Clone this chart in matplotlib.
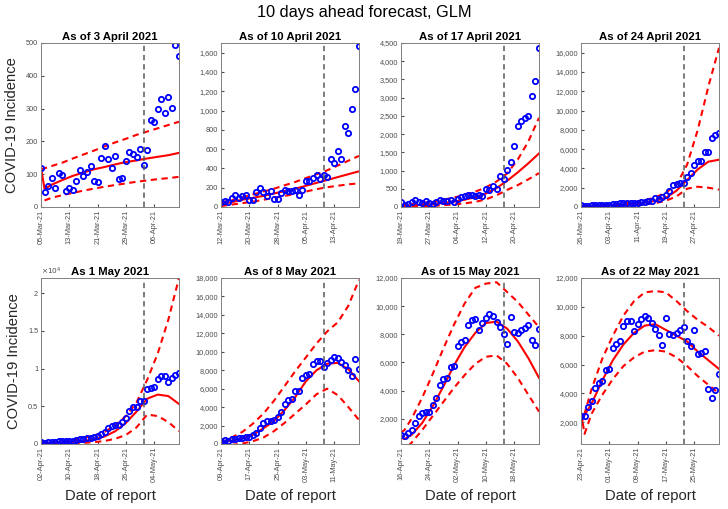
import datetime as dt
import numpy as np
import matplotlib
matplotlib.use("Agg")
import matplotlib.pyplot as plt
import matplotlib.dates as mdates
from matplotlib.ticker import FuncFormatter, MultipleLocator

plt.rcParams["font.family"] = ["Liberation Sans", "DejaVu Sans"]

# --- données ---
titles = ["As of 3 April 2021", "As of 10 April 2021", "As of 17 April 2021",
          "As of 24 April 2021", "As 1 May 2021", "As of 8 May 2021",
          "As of 15 May 2021", "As of 22 May 2021"]
start_dates = ["2021-03-05", "2021-03-12", "2021-03-19", "2021-03-26",
               "2021-04-02", "2021-04-09", "2021-04-16", "2021-04-23"]
calib_days = 29  # jour "as of" après la date de début

cases = [
    [120, 45, 65, 88, 58, 103, 97, 48, 58, 52, 78, 113, 95, 107, 125, 78, 75, 150, 187, 145,
     120, 155, 85, 88, 140, 168, 162, 152, 178, 128, 175, 265, 260, 298, 330, 288, 335, 302, 495, 460],
    [48, 65, 48, 93, 120, 93, 110, 127, 76, 76, 151, 196, 151, 110, 162, 86, 86, 144, 172, 162,
     162, 179, 127, 172, 265, 265, 299, 334, 289, 334, 310, 495, 461, 581, 495, 839, 770, 1011, 1228, 1668],
    [128, 64, 82, 128, 182, 137, 109, 155, 109, 91, 137, 182, 173, 155, 182, 128, 219, 264, 292, 337,
     337, 292, 319, 292, 492, 456, 583, 492, 838, 774, 1020, 1230, 1676, 2223, 2369, 2451, 2496, 3043, 3453, 4373],
    [240, 70, 140, 170, 240, 240, 200, 240, 200, 310, 340, 380, 380, 410, 410, 380, 380, 480, 550, 650,
     580, 930, 830, 1030, 1200, 1620, 2240, 2410, 2480, 2480, 3100, 3510, 4370, 4820, 4820, 5680, 5680, 7120, 7460, 7640],
    [220, 180, 220, 310, 310, 350, 350, 400, 440, 440, 530, 660, 660, 750, 840, 970, 1100, 1330, 1640, 2170,
     2390, 2520, 2520, 2960, 3400, 4380, 4860, 4950, 5700, 5750, 7250, 7380, 7600, 8620, 9060, 9060, 8270, 8710, 9150, 9370],
    [360, 440, 360, 545, 545, 620, 620, 800, 800, 980, 1160, 1710, 2250, 2440, 2510, 2550, 2980, 3450, 4330, 4730,
     4870, 5710, 5710, 7160, 7450, 7640, 8690, 8980, 8980, 8360, 8800, 9160, 9450, 9340, 8910, 8540, 8070, 7340, 9270, 8180],
    [850, 760, 1000, 1230, 1690, 2190, 2410, 2480, 2480, 3000, 3440, 4390, 4800, 4870, 5660, 5710, 7140, 7430, 7620, 8630,
     8980, 9060, 8290, 8820, 9180, 9420, 9300, 8870, 8510, 8050, 7310, 9250, 8150, 8100, 8270, 8460, 8630, 7620, 7260, 8410],
    [2470, 2470, 3050, 3450, 4380, 4730, 4850, 5620, 5690, 7140, 7420, 7610, 8660, 9010, 9050, 8310, 8820, 9170, 9360, 9240,
     8850, 8490, 8070, 7330, 9240, 8140, 8070, 8190, 8420, 8610, 7650, 7260, 8420, 6720, 6790, 6910, 4290, 3680, 4220, 5320],
]

fit_days = [0, 1, 3, 6, 9, 12, 15, 18, 21, 24, 27, 30, 33, 36, 39]
fit = [
    [120, 55, 68, 82, 95, 105, 115, 122, 130, 137, 142, 148, 153, 158, 165],
    [30, 38, 50, 75, 95, 115, 140, 165, 190, 220, 250, 280, 310, 340, 370],
    [30, 35, 45, 60, 80, 110, 150, 200, 270, 370, 520, 720, 950, 1200, 1470],
    [100, 100, 110, 140, 180, 240, 320, 450, 650, 950, 1700, 2800, 3900, 4700, 4900],
    [150, 150, 180, 220, 300, 420, 600, 1000, 1700, 2800, 4300, 6000, 6550, 6350, 5300],
    [250, 270, 350, 600, 1000, 1700, 2500, 3700, 5100, 6800, 8000, 8700, 8800, 8100, 6800],
    [650, 550, 850, 1700, 2900, 4300, 5800, 7100, 8100, 8800, 8900, 8400, 7500, 6300, 4900],
    [2200, 2500, 3300, 4900, 6300, 7400, 8200, 8700, 8800, 8400, 8000, 7600, 6900, 6300, 5700],
]
upper = [
    [115, 118, 125, 135, 148, 160, 172, 185, 197, 208, 220, 230, 240, 250, 260],
    [50, 55, 70, 100, 130, 160, 190, 225, 260, 300, 340, 380, 430, 480, 530],
    [60, 65, 80, 110, 150, 200, 260, 330, 420, 540, 700, 920, 1300, 1800, 2450],
    [150, 150, 170, 220, 290, 380, 500, 700, 1000, 1500, 2300, 4400, 8000, 12500, 16500],
    [250, 250, 300, 400, 550, 800, 1100, 1600, 2500, 3700, 5500, 8500, 12000, 16500, 22000],
    [200, 300, 700, 1300, 2200, 3300, 4700, 6300, 7900, 9400, 10900, 12200, 13200, 15000, 17800],
    [1000, 1200, 2000, 3500, 5200, 7000, 8700, 10200, 11300, 11600, 11700, 11000, 10300, 9400, 8500],
    [1800, 2600, 4300, 6400, 8000, 9400, 10400, 11000, 11100, 11000, 10400, 9700, 9100, 8600, 8000],
]
lower = [
    [np.nan, 20, 28, 36, 43, 50, 56, 62, 67, 72, 77, 81, 85, 88, 92],
    [10, 15, 25, 40, 55, 75, 95, 115, 135, 160, 185, 205, 220, 235, 245],
    [0, 5, 10, 20, 30, 50, 70, 100, 140, 210, 320, 470, 600, 760, 930],
    [50, 50, 60, 80, 100, 140, 200, 280, 400, 650, 1100, 1900, 2100, 2000, 1800],
    [50, 50, 60, 80, 100, 150, 250, 400, 700, 1200, 2200, 3900, 3700, 2900, 1700],
    [-300, -200, -100, 50, 300, 700, 1400, 2300, 3300, 4300, 5400, 6000, 5300, 4000, 2600],
    [-500, -200, 300, 1200, 2200, 3200, 4200, 5100, 5900, 6400, 6500, 5900, 4900, 3700, 2500],
    [2700, 1200, 2600, 3900, 5000, 5900, 6500, 6900, 7000, 6900, 6500, 5900, 5200, 4600, 4000],
]

ylims = [(0, 500), (0, 1700), (0, 4500), (0, 17000),
         (0, 22000), (0, 18000), (200, 12000), (500, 12000)]
ystep = [100, 200, 500, 2000, 5000, 2000, 2000, 2000]


def plot_panels():
    fig = plt.figure(figsize=(7.28, 5.09), dpi=100)
    fig.text(0.5, 0.976, "10 days ahead forecast, GLM", ha="center", va="center", fontsize=11.8)
    grey = "0.3"

    for i in range(8):
        row, col = divmod(i, 4)
        left = (41 + 180 * col) / 728
        if row == 0:
            ax = fig.add_axes([left, 1 - 207 / 509, 138 / 728, 164 / 509])
        else:
            ax = fig.add_axes([left, 1 - 444 / 509, 138 / 728, 166 / 509])

        t0 = dt.datetime.strptime(start_dates[i], "%Y-%m-%d")
        days = [t0 + dt.timedelta(days=k) for k in range(len(cases[i]))]
        fdays = [t0 + dt.timedelta(days=k) for k in fit_days]

        ax.plot(fdays, upper[i], "r--", lw=1.5, dashes=(3, 2.2))
        ax.plot(fdays, lower[i], "r--", lw=1.5, dashes=(3, 2.2))
        ax.plot(fdays, fit[i], "r-", lw=1.5)
        ax.plot(days, cases[i], "o", mfc="none", mec="b", mew=1.3, ms=3.8)
        ax.axvline(t0 + dt.timedelta(days=calib_days), color="0.35", ls="--", lw=1.1,
                   dashes=(3.5, 2.5))

        ax.set_xlim(days[0], days[-1])
        ax.set_ylim(*ylims[i])
        ax.yaxis.set_major_locator(MultipleLocator(ystep[i]))
        if i == 4:
            ax.yaxis.set_major_formatter(FuncFormatter(lambda v, p: f"{v / 1e4:g}"))
            ax.text(0.0, 1.005, r"$\times10^4$", transform=ax.transAxes,
                    fontsize=5.3, color=grey, ha="left", va="bottom")
        else:
            ax.yaxis.set_major_formatter(FuncFormatter(lambda v, p: f"{v:,.0f}"))

        ax.set_xticks([t0 + dt.timedelta(days=8 * k) for k in range(5)])
        ax.xaxis.set_major_formatter(mdates.DateFormatter("%d-%b-%y"))
        ax.tick_params(axis="x", labelrotation=90)
        ax.tick_params(direction="in", length=2.5, labelsize=5.3,
                       colors=grey, labelcolor=grey, pad=2)
        for s in ax.spines.values():
            s.set_color("0.5")
            s.set_linewidth(0.7)

        ax.set_title(titles[i], fontsize=8.2, fontweight="bold", pad=2.5)
        if col == 0:
            ax.set_ylabel("COVID-19 Incidence", fontsize=10.6, color="0.15", labelpad=5)
        if row == 1:
            ax.set_xlabel("Date of report", fontsize=10.6, color="0.15", labelpad=5)

    fig.savefig("out.png", dpi=100)


if __name__ == "__main__":
    plot_panels()
